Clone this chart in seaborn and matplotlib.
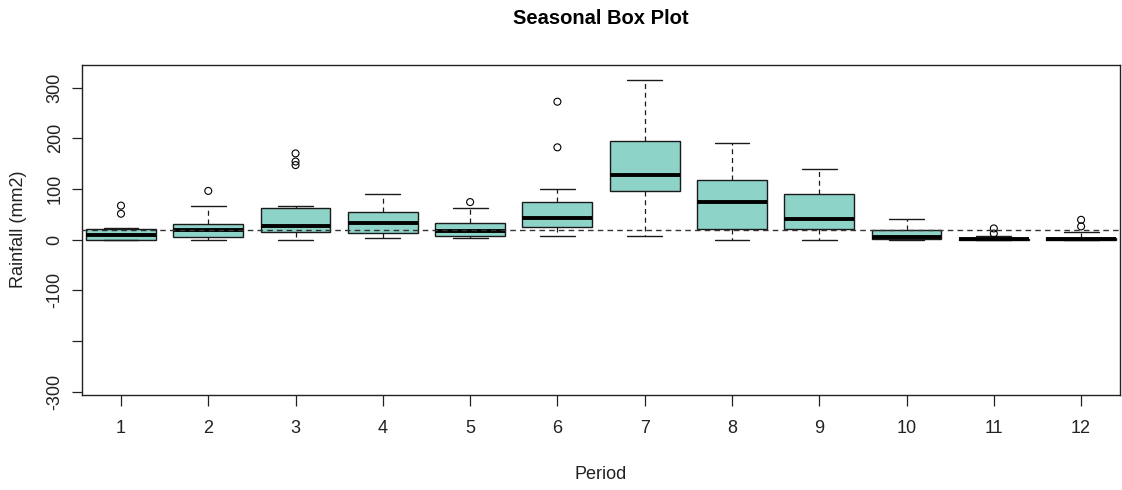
import numpy as np
import pandas as pd
import matplotlib
matplotlib.use("Agg")
import matplotlib.pyplot as plt
import seaborn as sns

# ---- data ----
months = [1, 2, 3, 4, 5, 6, 7, 8, 9, 10, 11, 12]
whisker_low = [0, 0, 0, 3, 3, 8, 8, 0, 0, 0, 0, 0]
q1 = [0, 5, 14, 13, 8, 24, 95, 20, 21, 1, 0, 0]
median = [10, 18, 27, 33, 17, 43, 127, 74, 41, 6, 0.5, 2]
q3 = [21, 31, 62, 55, 32, 74, 194, 117, 89, 19, 1.5, 3.5]
whisker_high = [22, 67, 67, 89, 63, 99, 315, 191, 139, 41, 8, 15]
outlier_month = [1, 1, 2, 3, 3, 3, 5, 6, 6, 11, 11, 12, 12]
outlier_value = [51, 67, 96, 147, 154, 170, 74, 182, 272, 12, 22, 26, 39]
reference_level = 19
y_ticks = [-300, -200, -100, 0, 100, 200, 300]
y_tick_labels = ["-300", "", "-100", "0", "100", "200", "300"]

title = "Seasonal Box Plot"
x_label = "Period"
y_label = "Rainfall (mm2)"
box_color = "#8DD3C7"

# five-number rows per month -> quartiles reproduce exactly with linear percentiles
rows = []
for m, lo, a, md, b, hi in zip(months, whisker_low, q1, median, q3, whisker_high):
    for v in (lo, a, md, b, hi):
        rows.append({"month": m, "value": v})
box_df = pd.DataFrame(rows)
out_df = pd.DataFrame({"month": outlier_month, "value": outlier_value})

sns.set_theme(style="ticks")
plt.rcParams["font.family"] = ["Liberation Sans", "DejaVu Sans"]

fig = plt.figure(figsize=(11.22, 4.90), dpi=100)
ax = fig.add_axes([81.7 / 1122, 1 - 394.7 / 490, (1119.5 - 81.7) / 1122, (394.7 - 64.7) / 490])

edge = "#1a1a1a"
sns.boxplot(
    data=box_df, x="month", y="value", order=months, ax=ax,
    color=box_color, width=0.8, whis=(0, 100), showfliers=False,
    linecolor=edge, linewidth=1.0, saturation=1,
    boxprops=dict(facecolor=box_color, edgecolor=edge, linewidth=1.0),
    whiskerprops=dict(color=edge, linestyle=(0, (4, 3)), linewidth=0.9),
    capprops=dict(color=edge, linewidth=1.0),
    medianprops=dict(color="black", linewidth=2.8, solid_capstyle="butt"),
)
sns.stripplot(
    data=out_df, x="month", y="value", order=months, ax=ax,
    jitter=False, marker="o", size=5, color="black",
    facecolor="none", edgecolor="black", linewidth=0.8, zorder=4,
)

ax.axhline(reference_level, color="#333333", linestyle=(0, (4, 3)), linewidth=1.0, zorder=5)

ax.set_xlim(-0.45, 11.44)
ax.set_ylim(-306, 345)
ax.set_yticks(y_ticks)
ax.set_yticklabels(y_tick_labels)
for lab in ax.get_yticklabels():
    lab.set_rotation(90)
    lab.set_va("center")
    lab.set_fontsize(13)
    lab.set_color("#222222")
for lab in ax.get_xticklabels():
    lab.set_fontsize(13)
    lab.set_color("#222222")

ax.tick_params(axis="x", length=8, width=0.9, pad=10, colors="#222222")
ax.tick_params(axis="y", length=7, width=0.9, pad=6, colors="#222222")
for s in ax.spines.values():
    s.set_visible(True)
    s.set_color("#222222")
    s.set_linewidth(1.0)

ax.set_xlabel(x_label, fontsize=13, color="#222222")
ax.xaxis.set_label_coords(0.5, -0.215)
ax.set_ylabel(y_label, fontsize=13, color="#222222")
ax.yaxis.set_label_coords(-0.053, 0.5)

ax.text(0.5, 1 + (64.7 - 18) / 330, title, transform=ax.transAxes,
        ha="center", va="center", fontsize=14.5, fontweight="bold", color="black")

fig.savefig("out.png", dpi=100)
